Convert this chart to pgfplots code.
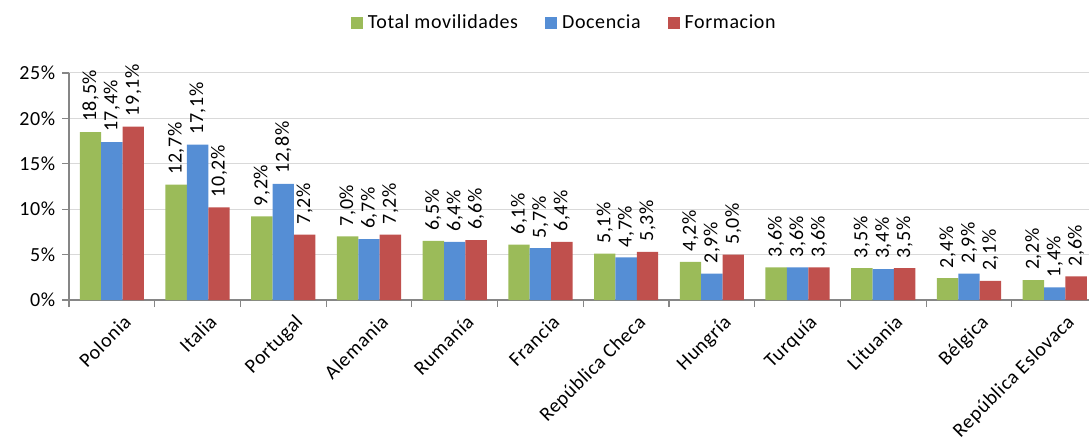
\documentclass[border=0pt]{standalone}
\usepackage{fontspec}
\setmainfont{Carlito}[LetterSpace=3]
\usepackage{pgfplots}
\usepackage{pgfplotstable}
\pgfplotsset{compat=1.18}
\definecolor{cg}{HTML}{9BBB59}
\definecolor{cb}{HTML}{558ED5}
\definecolor{cr}{HTML}{C0504D}
\definecolor{axgray}{HTML}{868686}
\definecolor{gridgray}{HTML}{D9D9D9}

\pgfplotstableread{
x tot doc form
0 18.5 17.4 19.1
1 12.7 17.1 10.2
2 9.2 12.8 7.2
3 7.0 6.7 7.2
4 6.5 6.4 6.6
5 6.1 5.7 6.4
6 5.1 4.7 5.3
7 4.2 2.9 5.0
8 3.6 3.6 3.6
9 3.5 3.4 3.5
10 2.4 2.9 2.1
11 2.2 1.4 2.6
}\data

\pgfplotsset{legsq/.style={legend image code/.code={\fill[##1] (0pt,-6pt) rectangle (12pt,6pt);}}}

\begin{document}
\fontsize{20}{24}\selectfont
\begin{tikzpicture}
\begin{axis}[
 scale only axis, width=1020pt, height=227pt,
 xmin=-0.5, xmax=11.4, ymin=0, ymax=25,
 ybar=0pt, bar width=21.4pt,
 axis lines*=left,
 axis line style={axgray, line width=1.2pt},
 ytick={0,5,...,25},
 yticklabel={\pgfmathprintnumber{\tick}\%},
 /pgf/number format/assume math mode=true,
 ymajorgrids, grid style={gridgray, line width=1pt},
 tick align=outside,
 major tick length=7pt,
 tick style={axgray, line width=1.2pt},
 xtick={0,...,11},
 xticklabels={Polonia, Italia, Portugal, Alemania, Rumanía, Francia, República Checa, Hungría, Turquía, Lituania, Bélgica, República Eslovaca},
 xtick style={draw=none},
 extra x ticks={-0.5,0.5,...,10.5},
 extra x tick labels={},
 extra x tick style={grid=none, xtick style={draw=axgray, line width=1.2pt}},
 xticklabel style={rotate=45, anchor=north east, inner sep=0pt, yshift=-12pt, xshift=3pt},
 nodes near coords={\pgfmathprintnumber[fixed,fixed zerofill,precision=1,use comma]{\pgfplotspointmeta}\%},
 nodes near coords style={rotate=90, anchor=west, inner xsep=10pt, black},
 legend style={at={(0.487,1.22)}, anchor=center, legend columns=3, draw=none, fill=none,
   nodes={inner xsep=5pt},
   /tikz/every even column/.append style={column sep=22pt}},
]
\addplot[fill=cg, draw=none, legsq] table[x=x, y=tot] {\data};
\addplot[fill=cb, draw=none, legsq] table[x=x, y=doc] {\data};
\addplot[fill=cr, draw=none, legsq] table[x=x, y=form] {\data};
\legend{Total movilidades, Docencia, Formacion}
\end{axis}
\pgfresetboundingbox
\path (-69pt,-141pt) rectangle (1020pt,300pt);
\end{tikzpicture}
\end{document}
